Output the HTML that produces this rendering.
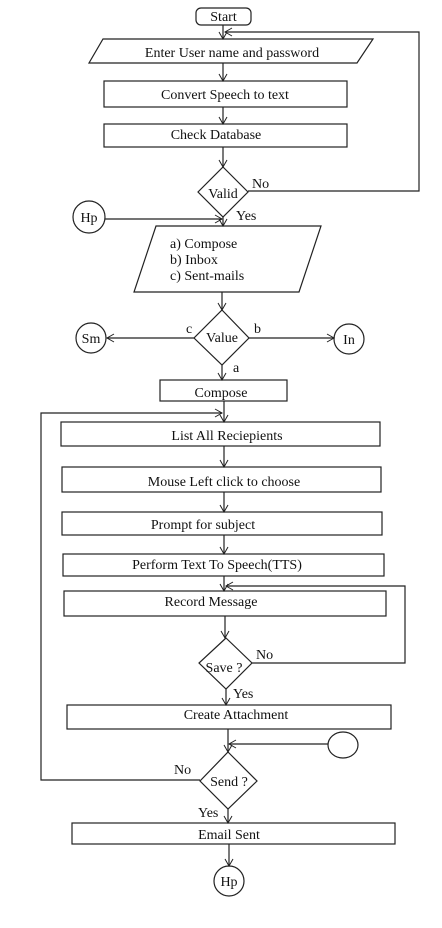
<!DOCTYPE html>
<html><head><meta charset="utf-8"><style>
html,body{margin:0;padding:0;background:#fff;}
svg{display:block;}
text{font-family:"Liberation Serif",serif;font-size:14px;fill:#111;}
</style></head><body>
<svg width="442" height="928" viewBox="0 0 442 928" xmlns="http://www.w3.org/2000/svg">
<defs>
<marker id="a" markerWidth="10" markerHeight="10" refX="8" refY="5" orient="auto" markerUnits="userSpaceOnUse">
<path d="M1,1 L8,5 L1,9" fill="none" stroke="#222" stroke-width="1"/>
</marker>
</defs>
<g fill="none" stroke="#222" stroke-width="1.2">
<rect x="196" y="8" width="55" height="17" rx="5"/>
<polygon points="103,39 373,39 357,63 89,63"/>
<rect x="104" y="81" width="243" height="26"/>
<rect x="104" y="124" width="243" height="23"/>
<polygon points="223,167 248,192 223,217 198,192"/>
<circle cx="89" cy="217" r="16"/>
<polygon points="156,226 321,226 299,292 134,292"/>
<polygon points="222,310 249,338 222,365 194,338"/>
<circle cx="91" cy="338" r="15"/>
<circle cx="349" cy="339" r="15"/>
<rect x="160" y="380" width="127" height="21"/>
<rect x="61" y="422" width="319" height="24"/>
<rect x="62" y="467" width="319" height="25"/>
<rect x="62" y="512" width="320" height="23"/>
<rect x="63" y="554" width="321" height="22"/>
<rect x="64" y="591" width="322" height="25"/>
<polygon points="226,638 252,663 226,689 199,663"/>
<rect x="67" y="705" width="324" height="24"/>
<ellipse cx="343" cy="745" rx="15" ry="13"/>
<polygon points="228,752 257,781 228,809 200,781"/>
<rect x="72" y="823" width="323" height="21"/>
<circle cx="229" cy="881" r="15"/>
</g>
<g fill="none" stroke="#222" stroke-width="1.2">
<line x1="223" y1="25" x2="223" y2="39" marker-end="url(#a)"/>
<polyline points="248,191 419,191 419,32 225,32" marker-end="url(#a)"/>
<line x1="223" y1="63" x2="223" y2="81" marker-end="url(#a)"/>
<line x1="223" y1="107" x2="223" y2="124" marker-end="url(#a)"/>
<line x1="223" y1="147" x2="223" y2="167" marker-end="url(#a)"/>
<line x1="223" y1="217" x2="223" y2="226" marker-end="url(#a)"/>
<line x1="105" y1="219" x2="222" y2="219" marker-end="url(#a)"/>
<line x1="222" y1="292" x2="222" y2="310" marker-end="url(#a)"/>
<line x1="194" y1="338" x2="107" y2="338" marker-end="url(#a)"/>
<line x1="249" y1="338" x2="334" y2="338" marker-end="url(#a)"/>
<line x1="222" y1="365" x2="222" y2="380" marker-end="url(#a)"/>
<line x1="224" y1="401" x2="224" y2="422" marker-end="url(#a)"/>
<polyline points="200,780 41,780 41,413 222,413" marker-end="url(#a)"/>
<line x1="224" y1="446" x2="224" y2="467" marker-end="url(#a)"/>
<line x1="224" y1="492" x2="224" y2="512" marker-end="url(#a)"/>
<line x1="224" y1="535" x2="224" y2="554" marker-end="url(#a)"/>
<line x1="224" y1="576" x2="224" y2="591" marker-end="url(#a)"/>
<polyline points="252,663 405,663 405,586 226,586" marker-end="url(#a)"/>
<line x1="225" y1="616" x2="225" y2="638" marker-end="url(#a)"/>
<line x1="226" y1="689" x2="226" y2="705" marker-end="url(#a)"/>
<line x1="228" y1="729" x2="228" y2="752" marker-end="url(#a)"/>
<line x1="328" y1="744" x2="229" y2="744" marker-end="url(#a)"/>
<line x1="228" y1="809" x2="228" y2="823" marker-end="url(#a)"/>
<line x1="229" y1="844" x2="229" y2="866" marker-end="url(#a)"/>
</g>
<text x="223.5" y="21" text-anchor="middle">Start</text>
<text x="232" y="57" text-anchor="middle">Enter User name and password</text>
<text x="225" y="99" text-anchor="middle">Convert Speech to text</text>
<text x="216" y="139" text-anchor="middle">Check Database</text>
<text x="223" y="198" text-anchor="middle">Valid</text>
<text x="252" y="188">No</text>
<text x="236" y="220">Yes</text>
<text x="89" y="222" text-anchor="middle">Hp</text>
<text x="170" y="248">a) Compose</text>
<text x="170" y="264">b) Inbox</text>
<text x="170" y="280">c) Sent-mails</text>
<text x="222" y="342" text-anchor="middle">Value</text>
<text x="186" y="333">c</text>
<text x="254" y="333">b</text>
<text x="233" y="372">a</text>
<text x="91" y="343" text-anchor="middle">Sm</text>
<text x="349" y="344" text-anchor="middle">In</text>
<text x="221" y="397" text-anchor="middle">Compose</text>
<text x="227" y="440" text-anchor="middle">List All Reciepients</text>
<text x="224" y="486" text-anchor="middle">Mouse Left click to choose</text>
<text x="203" y="529" text-anchor="middle">Prompt for subject</text>
<text x="217" y="569" text-anchor="middle">Perform Text To Speech(TTS)</text>
<text x="211" y="606" text-anchor="middle">Record Message</text>
<text x="224" y="672" text-anchor="middle">Save ?</text>
<text x="256" y="659">No</text>
<text x="233" y="698">Yes</text>
<text x="236" y="719" text-anchor="middle">Create Attachment</text>
<text x="229" y="786" text-anchor="middle">Send ?</text>
<text x="174" y="774">No</text>
<text x="198" y="817">Yes</text>
<text x="229" y="839" text-anchor="middle">Email Sent</text>
<text x="229" y="886" text-anchor="middle">Hp</text>
</svg>
</body></html>
